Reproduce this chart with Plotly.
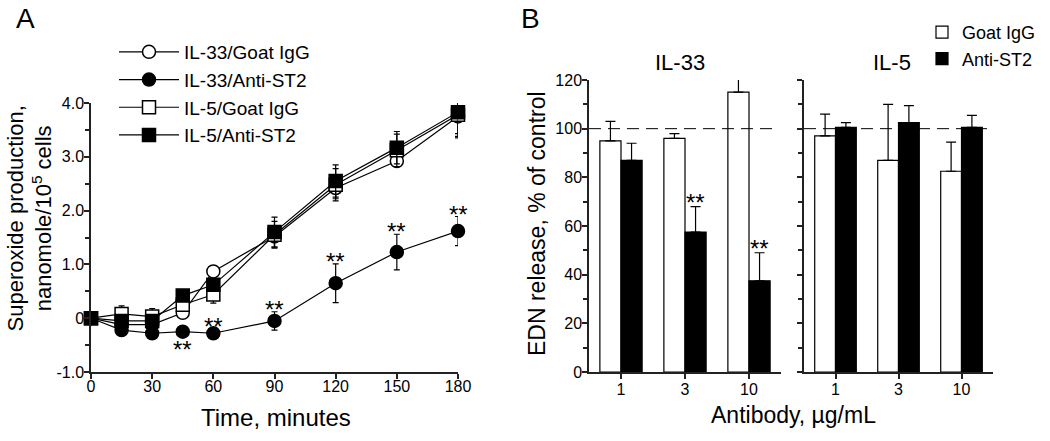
import plotly.graph_objects as go

# ---------------- Panel A data ----------------
time_min = [0, 15, 30, 45, 60, 90, 120, 150, 180]
il33_goat = [0, -0.12, -0.12, 0.10, 0.87, 1.52, 2.42, 2.92, 3.75]
il33_goat_err = [0, 0.08, 0.08, 0.08, 0.08, 0.20, 0.20, 0.10, 0.40]
il33_anti = [0, -0.22, -0.28, -0.25, -0.28, -0.05, 0.65, 1.23, 1.62]
il33_anti_err = [0, 0.08, 0.08, 0.08, 0.08, 0.17, 0.36, 0.33, 0.27]
il5_goat = [0, 0.08, 0.03, 0.25, 0.44, 1.55, 2.48, 3.12, 3.78]
il5_goat_err = [0, 0.15, 0.15, 0.10, 0.16, 0.25, 0.30, 0.30, 0.40]
il5_anti = [0, -0.05, -0.05, 0.42, 0.62, 1.60, 2.55, 3.17, 3.83]
il5_anti_err = [0, 0.08, 0.08, 0.10, 0.10, 0.28, 0.30, 0.30, 0.40]
sig_times_a = [45, 60, 90, 120, 150, 180]
sig_below_a = [45]
a_yticks = [-1, 0, 1, 2, 3, 4]
a_yticklabels = ["-1.0", "0", "1.0", "2.0", "3.0", "4.0"]
a_xticks = [0, 30, 60, 90, 120, 150, 180]

# ---------------- Panel B data ----------------
conc_labels = ["1", "3", "10"]
il33_goat_pct = [95, 96, 115]
il33_goat_pct_err = [8, 2, 13]
il33_anti_pct = [87, 57.5, 37.5]
il33_anti_pct_err = [7, 10.5, 11.5]
il5_goat_pct = [97, 87, 82.5]
il5_goat_pct_err = [9, 23, 12]
il5_anti_pct = [100.5, 102.5, 100.5]
il5_anti_pct_err = [2, 7, 5]
sig_il33_anti = ["3", "10"]
b_yticks = [0, 20, 40, 60, 80, 100, 120]

FONT = "Liberation Sans, Arial, sans-serif"
W, H = 1050, 441
BARGAP = 0.34

def px_x(p):
    return p / W

def px_y(p):
    return 1 - p / H

fig = go.Figure()

series = [
    ("IL-33/Goat IgG", il33_goat, il33_goat_err, "circle", "white"),
    ("IL-33/Anti-ST2", il33_anti, il33_anti_err, "circle", "black"),
    ("IL-5/Goat IgG", il5_goat, il5_goat_err, "square", "white"),
    ("IL-5/Anti-ST2", il5_anti, il5_anti_err, "square", "black"),
]
for name, vals, errs, sym, fill in series:
    fig.add_trace(go.Scatter(
        x=time_min, y=vals, name=name, mode="lines+markers",
        line=dict(color="black", width=1.2),
        marker=dict(symbol=sym, size=13, color=fill, line=dict(color="black", width=1.5)),
        error_y=dict(type="data", array=errs, color="black", thickness=1.2, width=3),
        xaxis="x", yaxis="y", legend="legend", cliponaxis=False,
    ))

STAR = dict(size=24, family=FONT, color="black")
# significance markers panel A
for t in sig_times_a:
    i = time_min.index(t)
    if t in sig_below_a:
        fig.add_annotation(x=t, y=il33_anti[i], xref="x", yref="y", text="**",
                           showarrow=False, yanchor="top", yshift=-2, font=STAR)
    else:
        fig.add_annotation(x=t, y=il33_anti[i] + il33_anti_err[i], xref="x", yref="y",
                           text="**", showarrow=False, yanchor="bottom", yshift=-13, font=STAR)

# ---------------- Panel B bars ----------------
def add_bars(xa, ya, goat, goat_err, anti, anti_err, show):
    fig.add_trace(go.Bar(
        x=conc_labels, y=goat, name="Goat IgG",
        marker=dict(color="white", line=dict(color="black", width=1.2)),
        error_y=dict(type="data", array=goat_err, arrayminus=[0] * len(goat), symmetric=False,
                     color="black", thickness=1.2, width=5),
        xaxis=xa, yaxis=ya, offsetgroup="g", legend="legend2", showlegend=show,
    ))
    fig.add_trace(go.Bar(
        x=conc_labels, y=anti, name="Anti-ST2",
        marker=dict(color="black", line=dict(color="black", width=1.2)),
        error_y=dict(type="data", array=anti_err, arrayminus=[0] * len(anti), symmetric=False,
                     color="black", thickness=1.2, width=5),
        xaxis=xa, yaxis=ya, offsetgroup="a", legend="legend2", showlegend=show,
    ))

add_bars("x2", "y2", il33_goat_pct, il33_goat_pct_err, il33_anti_pct, il33_anti_pct_err, True)
add_bars("x3", "y3", il5_goat_pct, il5_goat_pct_err, il5_anti_pct, il5_anti_pct_err, False)

bar_off = (1 - BARGAP) / 4
for c in sig_il33_anti:
    i = conc_labels.index(c)
    fig.add_annotation(x=i + bar_off, y=il33_anti_pct[i] + il33_anti_pct_err[i], xref="x2", yref="y2",
                       text="**", showarrow=False, yanchor="bottom", yshift=-11, font=STAR)

# dashed 100% reference lines
fig.add_shape(type="line", xref="x2 domain", yref="y2", x0=0, x1=0.98, y0=100, y1=100,
              line=dict(color="black", width=1, dash="12px,7px"))
fig.add_shape(type="line", xref="x3 domain", yref="y3", x0=0, x1=0.995, y0=100, y1=100,
              line=dict(color="black", width=1, dash="12px,7px"))

axis_common = dict(showline=True, linecolor="#222", linewidth=1.5, ticks="outside",
                   tickcolor="#222", tickwidth=1.5, ticklen=5, showgrid=False, zeroline=False,
                   automargin=False, tickfont=dict(size=16, family=FONT, color="black"))
minor_common = dict(ticks="outside", ticklen=4, tickcolor="#222", tickwidth=1.5)

ydom = [px_y(372), px_y(103)]
ydomB = [px_y(372), px_y(80)]

fig.update_layout(
    template="none",
    width=W, height=H, margin=dict(l=0, r=0, t=0, b=0, autoexpand=False),
    paper_bgcolor="white", plot_bgcolor="white",
    font=dict(family=FONT, color="black"),
    barmode="group", bargap=BARGAP, bargroupgap=0,
    xaxis=dict(domain=[px_x(91), px_x(458)], range=[0, 180], tickvals=a_xticks,
               anchor="y", ticklabelstandoff=-6, **axis_common),
    yaxis=dict(domain=ydom, range=[-1, 4], tickvals=a_yticks, ticktext=a_yticklabels,
               anchor="x", ticklabelstandoff=-3, minor=dict(dtick=0.5, **minor_common), **axis_common),
    xaxis2=dict(domain=[px_x(589), px_x(781)], type="category", range=[-0.5, 2.5],
                anchor="y2", ticklabelstandoff=-3, **axis_common),
    yaxis2=dict(domain=ydomB, range=[0, 120], tickvals=b_yticks, anchor="x2", ticklabelstandoff=-3,
                minor=dict(dtick=10, **minor_common), **axis_common),
    xaxis3=dict(domain=[px_x(804), px_x(993)], type="category", range=[-0.5, 2.5],
                anchor="y3", ticklabelstandoff=-3, **axis_common),
    yaxis3=dict(domain=ydomB, range=[0, 120], tickvals=b_yticks, anchor="x3", showticklabels=False,
                minor=dict(dtick=10, **minor_common), **axis_common),
    legend=dict(x=px_x(114), y=px_y(33), xanchor="left", yanchor="top", bgcolor="rgba(0,0,0,0)",
                font=dict(size=19, family=FONT, color="black"), itemwidth=60, tracegroupgap=0,
                borderwidth=0),
    legend2=dict(x=px_x(922), y=px_y(14), xanchor="left", yanchor="top", bgcolor="rgba(0,0,0,0)",
                 font=dict(size=18, family=FONT, color="black"), itemwidth=30, tracegroupgap=0,
                 borderwidth=0),
)

def text(x, y, s, size, angle=0, anchor="center"):
    fig.add_annotation(x=px_x(x), y=px_y(y), xref="paper", yref="paper", text=s, showarrow=False,
                       textangle=angle, xanchor=anchor, yanchor="middle",
                       font=dict(size=size, family=FONT, color="black"))

text(25, 18, "A", 28)
text(530, 18, "B", 28)
text(29.5, 219, "Superoxide production,<br>nanomole/10<sup>5</sup> cells", 22, angle=-90)
text(276, 417, "Time, minutes", 24)
text(537, 224, "EDN release, % of control", 23, angle=-90)
text(793, 415, "Antibody, µg/mL", 23)
text(680, 62, "IL-33", 22)
text(892, 62, "IL-5", 22)

fig.write_html("out.html", config={"displayModeBar": False},
               post_script="document.body.style.margin='0';document.body.style.overflow='hidden';")
